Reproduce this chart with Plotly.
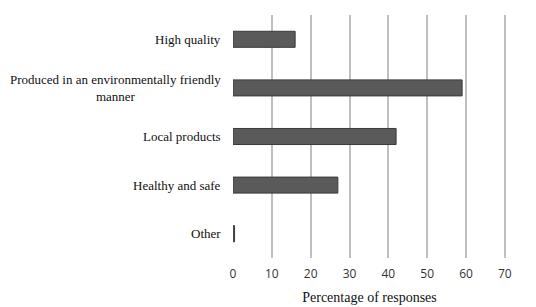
import plotly.graph_objects as go

categories = ["High quality",
              "Produced in an environmentally friendly<br>manner",
              "Local products",
              "Healthy and safe",
              "Other"]
percentages = [16, 59, 42, 27, 0.4]
x_ticks = [0, 10, 20, 30, 40, 50, 60, 70]

fig = go.Figure(go.Bar(
    x=percentages,
    y=categories,
    orientation='h',
    marker=dict(color='#5a5a5a', line=dict(color='#3a3a3a', width=1)),
    width=0.33,
))

# category labels as annotations so the wrapped one is centred like the original
for cat in categories:
    fig.add_annotation(
        x=0, xref='paper', y=cat, yref='y',
        text=cat, showarrow=False,
        xanchor='right', xshift=-10, align='center',
        font=dict(family='Liberation Serif, Times New Roman, serif', size=13, color='#111111'),
    )

fig.update_yaxes(
    type='category',
    categoryorder='array',
    categoryarray=categories,
    autorange='reversed',
    showticklabels=False,
    showgrid=False,
    zeroline=False,
    showline=False,
)

fig.update_xaxes(
    range=[0, 70.3],
    tickvals=x_ticks,
    showgrid=True,
    gridcolor='#bfbfbf',
    gridwidth=1.5,
    zeroline=False,
    showline=False,
    ticks='',
    ticklabelstandoff=7,
    tickfont=dict(family='Open Sans', size=12, color='#333333'),
    title=dict(text='Percentage of responses',
               font=dict(family='Liberation Serif, Times New Roman, serif', size=14, color='#111111'),
               standoff=11),
)

# page body has an 8px default margin, so margins are shifted to compensate
fig.update_layout(
    width=536, height=307,
    margin=dict(l=225, r=38, t=7, b=57),
    plot_bgcolor='white',
    paper_bgcolor='white',
    showlegend=False,
)

fig.write_html("out.html")
